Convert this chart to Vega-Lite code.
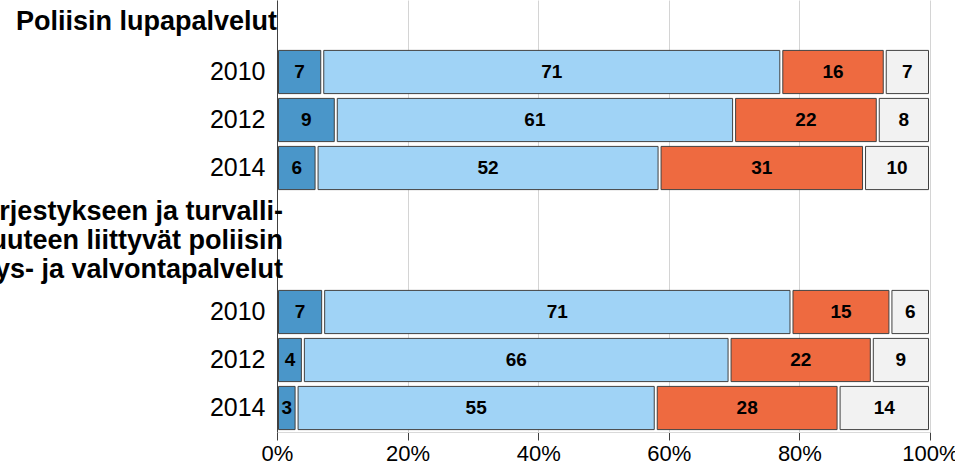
{
  "$schema": "https://vega.github.io/schema/vega-lite/v6.json",
  "autosize": {"type": "none"},
  "padding": {"left": 277, "top": 0, "right": 25, "bottom": 41},
  "width": 653,
  "height": 432,
  "config": {
    "view": {"stroke": null},
    "font": "Liberation Sans"
  },
  "datasets": {
    "bars": [
      {"row": "A|2010", "k": 1, "luokka": "1", "value": 7},
      {"row": "A|2010", "k": 2, "luokka": "2", "value": 71},
      {"row": "A|2010", "k": 3, "luokka": "3", "value": 16},
      {"row": "A|2010", "k": 4, "luokka": "4", "value": 7},
      {"row": "A|2012", "k": 1, "luokka": "1", "value": 9},
      {"row": "A|2012", "k": 2, "luokka": "2", "value": 61},
      {"row": "A|2012", "k": 3, "luokka": "3", "value": 22},
      {"row": "A|2012", "k": 4, "luokka": "4", "value": 8},
      {"row": "A|2014", "k": 1, "luokka": "1", "value": 6},
      {"row": "A|2014", "k": 2, "luokka": "2", "value": 52},
      {"row": "A|2014", "k": 3, "luokka": "3", "value": 31},
      {"row": "A|2014", "k": 4, "luokka": "4", "value": 10},
      {"row": "B|2010", "k": 1, "luokka": "1", "value": 7},
      {"row": "B|2010", "k": 2, "luokka": "2", "value": 71},
      {"row": "B|2010", "k": 3, "luokka": "3", "value": 15},
      {"row": "B|2010", "k": 4, "luokka": "4", "value": 6},
      {"row": "B|2012", "k": 1, "luokka": "1", "value": 4},
      {"row": "B|2012", "k": 2, "luokka": "2", "value": 66},
      {"row": "B|2012", "k": 3, "luokka": "3", "value": 22},
      {"row": "B|2012", "k": 4, "luokka": "4", "value": 9},
      {"row": "B|2014", "k": 1, "luokka": "1", "value": 3},
      {"row": "B|2014", "k": 2, "luokka": "2", "value": 55},
      {"row": "B|2014", "k": 3, "luokka": "3", "value": 28},
      {"row": "B|2014", "k": 4, "luokka": "4", "value": 14}
    ],
    "headers": [
      {"row": "H1", "label": "Poliisin lupapalvelut", "shift": 0},
      {"row": "H2", "label": "Yleiseen järjestykseen ja turvalli-\nsuuteen liittyvät poliisin\nhälytys- ja valvontapalvelut", "shift": 1}
    ]
  },
  "layer": [
    {
      "data": {"name": "bars"},
      "transform": [
        {"stack": "value", "groupby": ["row"], "sort": [{"field": "k", "order": "ascending"}], "offset": "normalize", "as": ["v0", "v1"]}
      ],
      "mark": {"type": "bar", "stroke": "#404040", "strokeWidth": 1, "xOffset": 1.5, "x2Offset": -1.5},
      "encoding": {
        "y": {
          "field": "row", "type": "nominal",
          "scale": {"domain": ["H1", "A|2010", "A|2012", "A|2014", "G", "H2", "B|2010", "B|2012", "B|2014"], "paddingInner": 0.1, "paddingOuter": 0.05},
          "axis": {
            "title": null, "ticks": false, "grid": false,
            "domainColor": "#404040", "domainWidth": 1,
            "labelFontSize": 25, "labelColor": "#000", "labelPadding": 12,
            "labelExpr": "indexof(datum.value, '|') >= 0 ? split(datum.value, '|')[1] : ''"
          }
        },
        "x": {
          "field": "v0", "type": "quantitative",
          "scale": {"domain": [0, 1], "nice": false},
          "axis": {
            "title": null, "values": [0, 0.2, 0.4, 0.6, 0.8, 1], "format": ".0%",
            "labelFontSize": 22, "labelColor": "#000", "labelPadding": 3, "labelFlush": false,
            "tickColor": "#404040", "tickSize": 8,
            "domainColor": "#d9d9d9", "gridColor": "#d4d4d4", "gridWidth": 1
          }
        },
        "x2": {"field": "v1"},
        "color": {
          "field": "luokka", "type": "nominal", "legend": null,
          "scale": {"domain": ["1", "2", "3", "4"], "range": ["#4A96C9", "#A0D3F6", "#EE6A40", "#F2F2F2"]}
        }
      }
    },
    {
      "data": {"name": "bars"},
      "mark": {"type": "text", "fontWeight": "bold", "fontSize": 19, "color": "#000", "baseline": "middle", "align": "center"},
      "encoding": {
        "y": {"field": "row", "type": "nominal"},
        "x": {"field": "value", "type": "quantitative", "stack": "normalize", "bandPosition": 0.5},
        "text": {"field": "value", "type": "quantitative"},
        "order": {"field": "k", "type": "quantitative"}
      }
    },
    {
      "data": {"name": "headers"},
      "transform": [{"filter": "datum.shift == 1"}],
      "mark": {"type": "text", "fontWeight": "bold", "fontSize": 27, "color": "#000", "align": "right", "baseline": "middle", "lineBreak": "\n", "lineHeight": 29, "dy": -52, "dx": 6},
      "encoding": {
        "y": {"field": "row", "type": "nominal"},
        "x": {"datum": 0, "type": "quantitative"},
        "text": {"field": "label"}
      }
    },
    {
      "data": {"name": "headers"},
      "transform": [{"filter": "datum.shift == 0"}],
      "mark": {"type": "text", "fontWeight": "bold", "fontSize": 27, "color": "#000", "align": "right", "baseline": "middle", "dy": -2},
      "encoding": {
        "y": {"field": "row", "type": "nominal"},
        "x": {"datum": 0, "type": "quantitative"},
        "text": {"field": "label"}
      }
    }
  ]
}
